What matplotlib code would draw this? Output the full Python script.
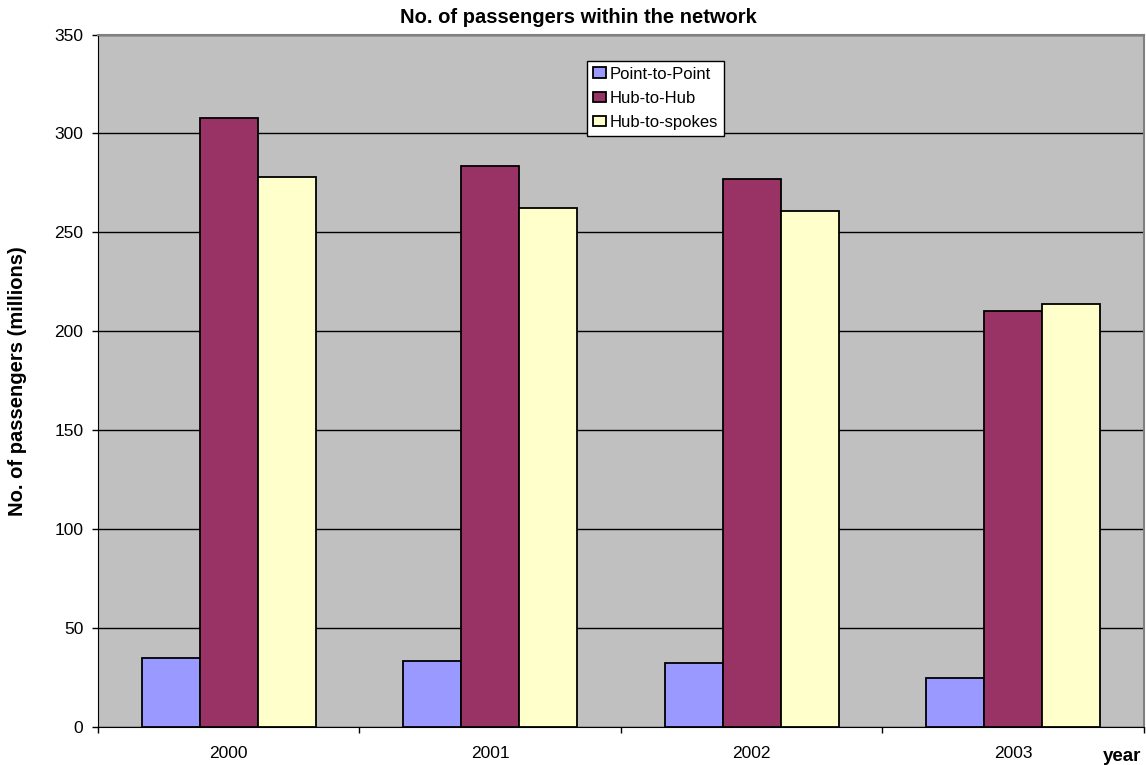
import numpy as np
import matplotlib.pyplot as plt

plt.rcParams['font.family'] = ['Liberation Sans', 'DejaVu Sans']

years = ['2000', '2001', '2002', '2003']
series_names = ['Point-to-Point', 'Hub-to-Hub', 'Hub-to-spokes']
point_to_point = [35, 33.2, 32.2, 24.8]
hub_to_hub = [308, 283.6, 277, 210.4]
hub_to_spokes = [278, 262.4, 261, 214]
colours = ['#9999FF', '#993366', '#FFFFCC']

fig = plt.figure(figsize=(11.46, 7.65), dpi=100)
ax = fig.add_axes([0.0855, 0.0497, 0.9127, 0.9052])
ax.set_facecolor('#C0C0C0')

# excel style: gap width 150% -> each bar is 1/4.5 of a category
bw = 1 / 4.5
centres = np.arange(len(years)) + 0.5
for i, (vals, name) in enumerate(zip([point_to_point, hub_to_hub, hub_to_spokes], series_names)):
    ax.bar(centres + (i - 1) * bw, vals, width=bw, color=colours[i],
           edgecolor='black', linewidth=1.3, label=name, zorder=3)

ax.set_xlim(0, len(years))
ax.set_ylim(0, 350)
ax.set_yticks(np.arange(0, 351, 50))
ax.yaxis.grid(True, color='black', linewidth=1, zorder=1)
ax.set_axisbelow(True)

ax.set_xticks(np.arange(0, len(years) + 1))
ax.set_xticklabels([])
ax.set_xticks(centres, minor=True)
ax.set_xticklabels(years, minor=True)
ax.tick_params(axis='x', which='minor', length=0, pad=14, labelsize=12.5)
ax.tick_params(axis='x', which='major', length=4, width=1, color='black')
ax.tick_params(axis='y', length=4.5, width=1, labelsize=12.5, pad=6)

for s in ['top', 'right']:
    ax.spines[s].set_color('#808080')
    ax.spines[s].set_linewidth(1.5)
for s in ['left', 'bottom']:
    ax.spines[s].set_color('black')

# title is centred on the whole chart, like excel does
fig.text(0.505, 0.9703, 'No. of passengers within the network', fontsize=14.5,
         fontweight='bold', ha='center', va='baseline')
ax.set_ylabel('No. of passengers (millions)', fontsize=14.5, fontweight='bold')
ax.yaxis.set_label_coords(-0.068, 0.5)
ax.text(0.979, -0.0303, 'year', transform=ax.transAxes, fontsize=13.5,
        fontweight='bold', ha='center', va='top')

leg = ax.legend(loc='upper left', bbox_to_anchor=(0.468, 0.962), fontsize=12,
                frameon=True, fancybox=False, framealpha=1, edgecolor='black',
                handlelength=0.75, handleheight=0.6, handletextpad=0.25,
                borderpad=0.35, labelspacing=0.55, borderaxespad=0)
leg.get_frame().set_linewidth(1)

fig.savefig('out.png', dpi=100)
